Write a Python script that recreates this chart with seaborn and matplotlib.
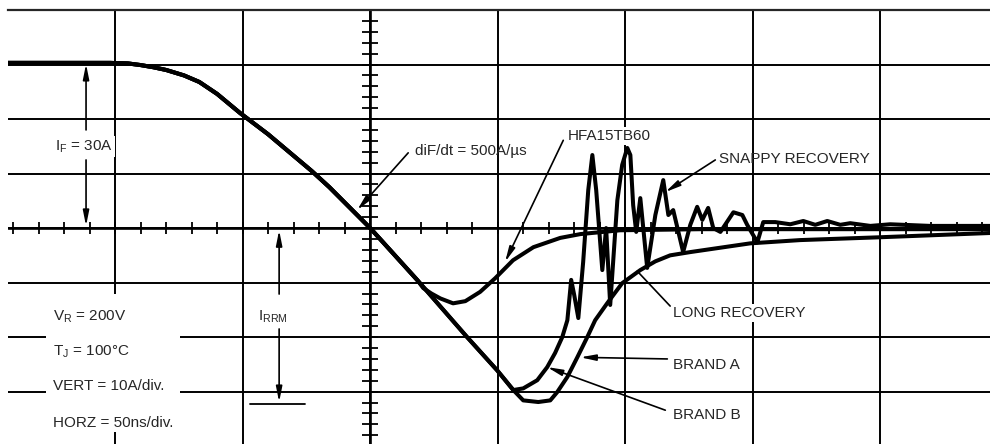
import numpy as np
import pandas as pd
import seaborn as sns
import matplotlib.pyplot as plt
from matplotlib.patches import Rectangle

sns.set_style('white')
plt.rcParams['font.family'] = ['Liberation Sans', 'DejaVu Sans']
plt.rcParams['mathtext.fontset'] = 'custom'
plt.rcParams['mathtext.rm'] = 'Liberation Sans'
plt.rcParams['mathtext.it'] = 'Liberation Sans'

# time in ns (50 ns/div), current in A (10 A/div)
t_common = [-142, -120, -102, -95, -90, -85, -80, -73, -67, -60, -51, -40, -23, -16, 0, 18.4]
i_common = [30.3, 30.3, 30.3, 30.2, 29.9, 29.5, 29.0, 28.0, 26.8, 24.6, 21.1, 17.2, 10.5, 7.5, 0, -9.5]

t_hfa = [20.8, 24, 27.5, 32.5, 37.3, 43.1, 49, 56, 64, 74.5, 82.4, 98, 130, 243]
i_hfa = [-11.0, -12.0, -12.9, -13.8, -13.4, -11.7, -9.2, -5.9, -3.5, -1.8, -1.1, -0.4, -0.2, -0.2]

t_ramp = [38, 49.8, 56.1]
i_ramp = [-20, -26.1, -29.7]

t_brand_a = [60, 65.9, 70.6, 73.3, 77.3, 81.2, 85.1, 88.2, 92.9, 98.8, 105.9, 111.8, 117.6,
             125.5, 149, 168.6, 198.8, 243]
i_brand_a = [-31.6, -31.9, -31.6, -30.1, -27.3, -23.7, -20.0, -16.9, -13.8, -10.1, -7.7, -6.1, -5.0,
             -4.4, -2.8, -2.2, -1.7, -0.9]

t_brand_b = [60, 65.5, 69.4, 72.5, 75.3, 77.3, 78.8, 80, 81.6, 83.5, 85.5, 87.1, 88.6, 91.0, 92.5,
             94.1, 96.9, 98.8, 100.8, 102.0, 103.1, 104.3, 105.9, 108.6, 111.8, 114.9, 116.9, 118.8,
             122.7, 125.5, 128.2, 130.2, 132.5, 134.5, 137.3, 142.4, 145.9, 147.8, 151.8, 154.1,
             158.8, 164.7, 169.8, 174.5, 179.2, 184.3, 188.2, 196.1, 203.9, 219.6, 243.1]
i_brand_b = [-29.4, -27.9, -25.5, -22.9, -20.0, -16.9, -9.5, -12.3, -16.5, -6.2, 7.0, 13.4, 7.0, -7.7, 0,
             -14.1, 5.1, 11.6, 14.7, 13.4, 4.2, -0.7, 5.5, -7.3, 2.4, 8.8, 2.4, 3.3,
             -4.4, 0.6, 3.9, 1.5, 3.7, 0, -0.7, 2.9, 2.4, 0.6, -2.6, 1.1,
             1.1, 0.7, 1.3, 0.6, 1.3, 0.6, 0.9, 0.4, 0.7, 0.4, 0.4]

curves = {
    'HFA15TB60': (t_common + t_hfa, i_common + i_hfa),
    'Brand A': (t_common + t_ramp + t_brand_a, i_common + i_ramp + i_brand_a),
    'Brand B': (t_common + t_ramp + t_brand_b, i_common + i_ramp + i_brand_b),
}

fig = plt.figure(figsize=(9.9, 4.44), dpi=100)
ax = fig.add_axes([8 / 990, 0, 982 / 990, 434 / 444])
ax.set_xlim(-142, 243)
ax.set_ylim(-39.6, 40.0)

# graticule
ax.set_xticks(np.arange(-100, 250, 50))
ax.set_yticks(np.arange(-30, 40, 10))
ax.tick_params(length=0, labelbottom=False, labelleft=False)
ax.grid(True, color='black', lw=1.4)
for side in ['left', 'right', 'bottom']:
    ax.spines[side].set_visible(False)
ax.spines['top'].set_linewidth(1.6)
ax.axhline(0, color='black', lw=1.9, zorder=2)
ax.axvline(0, color='black', lw=1.9, zorder=2)
xt = np.arange(-140, 250, 10)
ax.plot(xt, np.zeros_like(xt), ls='none', marker='|', ms=8, mew=1.3, color='black', zorder=2)
yt = np.arange(-38, 40, 2)
ax.plot(np.zeros_like(yt), yt, ls='none', marker='_', ms=12, mew=1.3, color='black', zorder=2)

for name, (t, i) in curves.items():
    df = pd.DataFrame({'t': t, 'i': i})
    sns.lineplot(data=df, x='t', y='i', sort=False, estimator=None, color='black', lw=2.9,
                 solid_joinstyle='round', solid_capstyle='round', ax=ax, zorder=3)
ax.set_xlabel('')
ax.set_ylabel('')

fs = 11
box = dict(fc='white', ec='none', pad=1.5)
arrow = dict(arrowstyle='-|>,head_length=0.9,head_width=0.18', color='black', lw=1.2,
             shrinkA=0, shrinkB=0)

# conditions block
ax.add_patch(Rectangle((-127, -37.4), 52.5, 25.3, fc='white', ec='none', zorder=2.5))
ax.text(-124.3, -16.9, 'V$_\\mathrm{R}$ = 200V', fontsize=fs, va='baseline', zorder=4)
ax.text(-124.3, -23.3, 'T$_\\mathrm{J}$ = 100°C', fontsize=fs, va='baseline', zorder=4)
ax.text(-124.3, -29.7, 'VERT = 10A/div.', fontsize=fs, va='baseline', zorder=4)
ax.text(-124.3, -36.5, 'HORZ = 50ns/div.', fontsize=fs, va='baseline', zorder=4)

# I_F
ax.text(-123.5, 14.3, 'I$_\\mathrm{F}$ = 30A', fontsize=fs, va='baseline', bbox=box, zorder=2.8)
ax.annotate('', xy=(-111.4, 30.1), xytext=(-111.4, 18.0), arrowprops=arrow, zorder=4)
ax.annotate('', xy=(-111.4, 0.4), xytext=(-111.4, 12.5), arrowprops=arrow, zorder=4)

# I_RRM
ax.text(-43.9, -16.9, 'I$_\\mathrm{RRM}$', fontsize=fs, va='baseline', zorder=4)
ax.annotate('', xy=(-35.7, -0.4), xytext=(-35.7, -12.1), arrowprops=arrow, zorder=4)
ax.annotate('', xy=(-35.7, -31.9), xytext=(-35.7, -18.5), arrowprops=arrow, zorder=4)
ax.plot([-47, -25.5], [-32.3, -32.3], color='black', lw=1.3, zorder=4)

# curve labels
ax.text(17.6, 13.4, 'diF/dt = 500A/µs', fontsize=fs, va='baseline', zorder=4)
ax.annotate('', xy=(-5.1, 3.3), xytext=(14.9, 13.8), arrowprops=arrow, zorder=4)
ax.text(77.3, 16.1, 'HFA15TB60', fontsize=fs, va='baseline', bbox=box, zorder=2.8)
ax.annotate('', xy=(52.9, -6.2), xytext=(75.7, 16.1), arrowprops=arrow, zorder=4)
ax.text(136.9, 11.9, 'SNAPPY RECOVERY', fontsize=fs, va='baseline', zorder=4)
ax.annotate('', xy=(115.7, 6.6), xytext=(135.3, 12.5), arrowprops=arrow, zorder=4)
ax.text(118.8, -16.3, 'LONG RECOVERY', fontsize=fs, va='baseline', bbox=box, zorder=2.8)
ax.plot([117.6, 104.7], [-14.3, -7.9], color='black', lw=1.2, zorder=4)
ax.text(118.8, -25.9, 'BRAND A', fontsize=fs, va='baseline', zorder=4)
ax.annotate('', xy=(82.4, -23.7), xytext=(116.5, -24.0), arrowprops=arrow, zorder=4)
ax.text(118.8, -35.0, 'BRAND B', fontsize=fs, va='baseline', zorder=4)
ax.annotate('', xy=(69.4, -25.5), xytext=(115.7, -33.4), arrowprops=arrow, zorder=4)

fig.savefig('out.png', dpi=100, facecolor='white')
